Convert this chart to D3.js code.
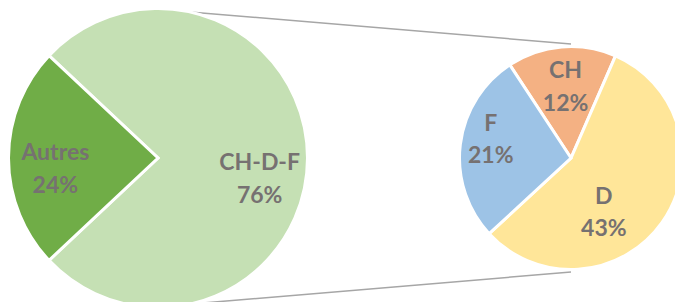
<!DOCTYPE html>
<html>
<head>
<meta charset="utf-8">
<script src="https://cdn.jsdelivr.net/npm/d3@7"></script>
<style>
  html, body { margin: 0; padding: 0; background: #fff; }
  svg { display: block; }
  text { font-family: Lato, "Open Sans", sans-serif; font-weight: bold; fill: #767171; }
</style>
</head>
<body>
<svg id="chart" width="675" height="302"></svg>
<script>
// Daten
const mainLabels = ["CH-D-F", "Autres"];
const mainValues = [76, 24];
const subLabels = ["CH", "D", "F"];
const subValues = [12, 43, 21];

const mainColors = ["#c5e0b4", "#70ad47"];
const subColors = ["#f4b183", "#ffe699", "#9dc3e6"];

// Kleine Korrekturen der Beschriftung (Excel setzt sie nicht genau in den Schwerpunkt)
const labelNudge = { "CH-D-F": [0, 20], Autres: [-1, 10], CH: [1, 4], D: [-29, 10], F: [-5, -10] };

const svg = d3.select("#chart");
const deg = Math.PI / 180;

const big = { cx: 158, cy: 158, r: 149.5 };
const small = { cx: 571, cy: 158, r: 111.5 };

// Verbindungslinien zwischen den Kreisen
const lineAngle = 12.3 * deg;
[-1, 1].forEach((s) => {
  svg.append("line")
    .attr("x1", big.cx + Math.sin(lineAngle) * big.r)
    .attr("y1", big.cy + s * Math.cos(lineAngle) * big.r)
    .attr("x2", small.cx)
    .attr("y2", small.cy + s * (small.r + 2.5))
    .attr("stroke", "#a6a6a6")
    .attr("stroke-width", 1.5);
});

function drawPie(cfg, labels, values, colors, startAngle) {
  const total = d3.sum(mainValues);
  const pie = d3.pie().sort(null).value((d) => d.v)
    .startAngle(startAngle).endAngle(startAngle + 2 * Math.PI);
  const arc = d3.arc().innerRadius(0).outerRadius(cfg.r);
  const labelArc = d3.arc().innerRadius(cfg.r * 0.68).outerRadius(cfg.r * 0.68);
  const data = labels.map((l, i) => ({ name: l, v: values[i], color: colors[i] }));

  const g = svg.append("g").attr("transform", `translate(${cfg.cx},${cfg.cy})`);
  const arcs = pie(data);

  g.selectAll("path").data(arcs).enter().append("path")
    .attr("d", arc)
    .attr("fill", (d) => d.data.color)
    .attr("stroke", "#fff")
    .attr("stroke-width", 3)
    .attr("stroke-linejoin", "miter");

  const lab = g.selectAll("text.lab").data(arcs).enter().append("text")
    .attr("class", "lab")
    .attr("text-anchor", "middle")
    .style("font-size", "23px")
    .attr("transform", (d) => {
      const c = labelArc.centroid(d);
      const n = labelNudge[d.data.name] || [0, 0];
      return `translate(${c[0] + n[0]},${c[1] + n[1]})`;
    });
  lab.append("tspan").attr("x", 0).attr("y", -8).text((d) => d.data.name);
  lab.append("tspan").attr("x", 0).attr("y", 24.5)
    .text((d) => Math.round((d.data.v / total) * 100) + "%");
}

// linker Kreis: "Autres" zeigt nach links
const mainStart = 1.5 * Math.PI - (mainValues[1] / d3.sum(mainValues)) * Math.PI
  - (mainValues[0] / d3.sum(mainValues)) * 2 * Math.PI;
drawPie(big, mainLabels, mainValues, mainColors, mainStart);

// rechter Kreis
drawPie(small, subLabels, subValues, subColors, -33.3 * deg);
</script>
</body>
</html>
